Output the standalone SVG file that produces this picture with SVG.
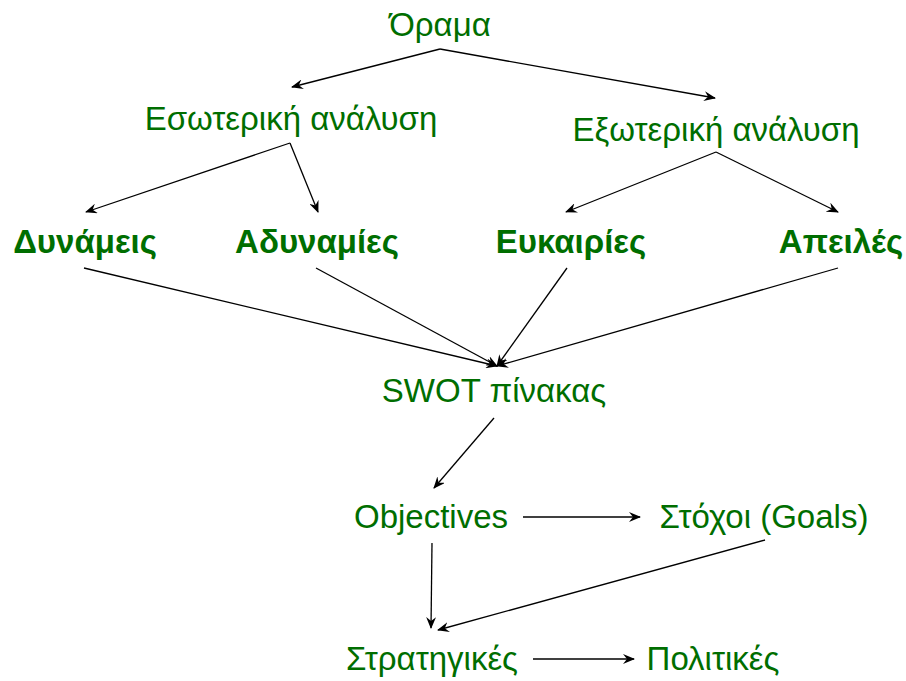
<svg xmlns="http://www.w3.org/2000/svg" width="906" height="681" viewBox="0 0 906 681">
<style>
text{font-family:"Liberation Sans",Arial,sans-serif;font-size:33px;fill:#006e00;text-anchor:middle}
.b{font-weight:bold}
.c line{stroke:#000;stroke-width:1.3;marker-end:url(#a)}
</style>
<defs>
<marker id="a" viewBox="0 0 12 10" refX="11" refY="5" markerWidth="12" markerHeight="10" markerUnits="userSpaceOnUse" orient="auto">
<path d="M0,0 L12,5 L0,10 L4,5 z" fill="#000"/>
</marker>
</defs>
<rect width="906" height="681" fill="#fff"/>
<g id="n-orama"><text x="440" y="36">Όραμα</text></g>
<g id="n-eswt"><text x="291" y="130">Εσωτερική ανάλυση</text></g>
<g id="n-exwt"><text x="716" y="141">Εξωτερική ανάλυση</text></g>
<g id="n-dyn"><text class="b" x="85" y="253">Δυνάμεις</text></g>
<g id="n-adyn"><text class="b" x="317" y="253">Αδυναμίες</text></g>
<g id="n-euk"><text class="b" x="571" y="253">Ευκαιρίες</text></g>
<g id="n-apei"><text class="b" x="841" y="253">Απειλές</text></g>
<g id="n-swot"><text x="494" y="402">SWOT πίνακας</text></g>
<g id="n-obj"><text x="431" y="528">Objectives</text></g>
<g id="n-goals"><text x="764" y="528">Στόχοι (Goals)</text></g>
<g id="n-strat"><text x="432" y="670">Στρατηγικές</text></g>
<g id="n-pol"><text x="713" y="670">Πολιτικές</text></g>
<g class="c" id="connectors">
<line x1="440" y1="49" x2="292" y2="87"/>
<line x1="440" y1="49" x2="715" y2="98"/>
<line x1="290" y1="143" x2="86" y2="212"/>
<line x1="290" y1="143" x2="318" y2="212"/>
<line x1="716" y1="152" x2="566" y2="212"/>
<line x1="716" y1="152" x2="838" y2="212"/>
<line x1="84" y1="268" x2="497" y2="366"/>
<line x1="316" y1="268" x2="497" y2="366"/>
<line x1="567" y1="268" x2="497" y2="366"/>
<line x1="838" y1="268" x2="497" y2="366"/>
<line x1="494" y1="418" x2="434" y2="488"/>
<line x1="523" y1="517" x2="640" y2="517"/>
<line x1="432" y1="543" x2="431" y2="628"/>
<line x1="765" y1="540" x2="438" y2="630"/>
<line x1="533" y1="659" x2="634" y2="659"/>
</g>
</svg>
